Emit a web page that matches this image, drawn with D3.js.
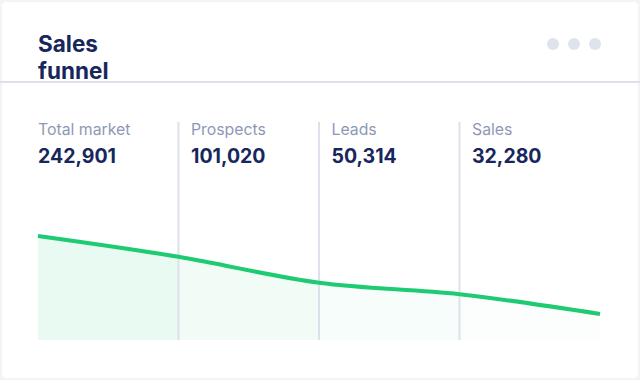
<!DOCTYPE html>
<html><head><meta charset="utf-8">
<script src="https://cdn.jsdelivr.net/npm/d3@7"></script>
<style>html,body{margin:0;padding:0;background:#f3f4f8;}svg{display:block;font-family:Inter,"Noto Sans",sans-serif;}</style>
</head><body>
<svg id="c" width="640" height="380"></svg>
<script>
const stages = ["Total market", "Prospects", "Leads", "Sales"];
const stageValues = [242901, 101020, 50314, 32280];
const trendValues = [100, 80, 55, 44, 25];
const segmentOpacity = [0.1, 0.06, 0.035, 0.02];

const svg = d3.select("#c");
svg.append("rect").attr("x",2).attr("y",2).attr("width",636).attr("height",376).attr("rx",4).attr("fill","#ffffff");
svg.append("rect").attr("x",0).attr("y",81).attr("width",640).attr("height",2).attr("fill","#dde1ea");

const title = svg.append("text").attr("x",38).attr("fill","#17275c").attr("font-weight",700).attr("font-size",22.5);
title.append("tspan").attr("x",38).attr("y",52).text("Sales");
title.append("tspan").attr("x",38).attr("y",79).text("funnel");

const dotX = d3.scalePoint().domain([0,1,2]).range([553,595]);
svg.selectAll("circle.dot").data([0,1,2]).join("circle").attr("class","dot")
  .attr("cx",d=>dotX(d)).attr("cy",44).attr("r",6).attr("fill","#dfe3ec");

const x = d3.scaleLinear().domain([0, stages.length]).range([38, 600]);
const y = d3.scaleLinear().domain([0, 100]).range([340, 236]);
const pts = trendValues.map((v,i)=>[x(i), y(v)]);
const curve = d3.curveMonotoneX;

for (let i=0;i<stages.length;i++){
  svg.append("clipPath").attr("id","clip"+i).append("rect")
    .attr("x",x(i)).attr("y",0).attr("width",x(i+1)-x(i)).attr("height",380);
}
const area = d3.area().x(d=>d[0]).y0(y(0)).y1(d=>d[1]).curve(curve);
stages.forEach((s,i)=>{
  svg.append("path").attr("d",area(pts)).attr("fill","#1fcb72").attr("fill-opacity",segmentOpacity[i])
    .attr("clip-path","url(#clip"+i+")");
});

svg.selectAll("line.sep").data(d3.range(1,stages.length)).join("line").attr("class","sep")
  .attr("x1",d=>x(d)).attr("x2",d=>x(d)).attr("y1",122).attr("y2",y(0))
  .attr("stroke","#dde1ea").attr("stroke-width",2);

const line = d3.line().x(d=>d[0]).y(d=>d[1]).curve(curve);
svg.append("path").attr("d",line(pts)).attr("fill","none").attr("stroke","#1ecb72").attr("stroke-width",4);

const fmt = d3.format(",");
const labelX = i => i===0 ? x(0) : x(i)+12.5;
svg.selectAll("text.lab").data(stages).join("text").attr("class","lab")
  .attr("x",(d,i)=>labelX(i)).attr("y",135).attr("font-size",15.8).attr("fill","#8e98b6").text(d=>d);
svg.selectAll("text.val").data(stageValues).join("text").attr("class","val")
  .attr("x",(d,i)=>labelX(i)).attr("y",163).attr("font-size",19.5).attr("font-weight",700).attr("fill","#17275c").text(d=>fmt(d));
</script>
</body></html>
